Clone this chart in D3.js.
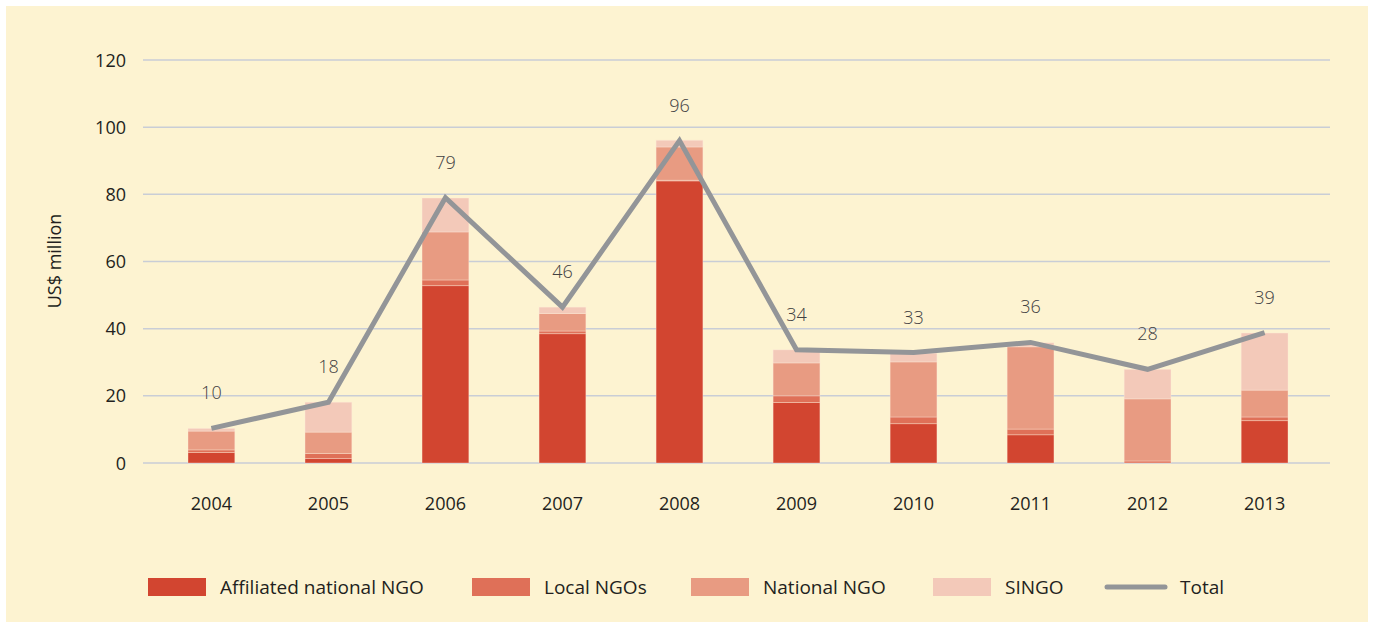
<!DOCTYPE html>
<html>
<head>
<meta charset="utf-8">
<script src="https://cdn.jsdelivr.net/npm/d3@7/dist/d3.min.js"></script>
<style>
  html, body { margin: 0; padding: 0; background: #ffffff; }
  svg { display: block; }
  text { font-family: "Open Sans", "Noto Sans", sans-serif; }
</style>
</head>
<body>
<svg id="chart" width="1375" height="622"></svg>
<script>
const years = ["2004","2005","2006","2007","2008","2009","2010","2011","2012","2013"];
const affiliated = [3.1, 1.3, 52.8, 38.5, 84.0, 18.0, 11.7, 8.4, 0.0, 12.6];
const localNGOs  = [0.8, 1.5, 1.7, 0.8, 0.2, 2.0, 2.0, 1.7, 0.6, 1.1];
const nationalNGO= [5.6, 6.4, 14.3, 5.2, 9.9, 9.8, 16.4, 24.5, 18.5, 8.0];
const singo      = [0.8, 8.9, 10.1, 1.9, 2.0, 3.9, 2.6, 1.2, 8.8, 17.0];
const totals     = [10.3, 18.1, 79.0, 46.4, 96.0, 33.7, 32.9, 35.9, 27.9, 38.8];
const totalLabels= ["10","18","79","46","96","34","33","36","28","39"];
const yTicks = [0, 20, 40, 60, 80, 100, 120];
const seriesNames = ["Affiliated national NGO","Local NGOs","National NGO","SINGO"];
const seriesColors = ["#d24530","#df7058","#e89b82","#f3c9b9"];
const lineColor = "#939598";

const svg = d3.select("#chart");
svg.append("rect").attr("x",6).attr("y",6).attr("width",1362).attr("height",616).attr("fill","#fdf3d1");

const x = d3.scaleBand().domain(years).range([188, 1288]).paddingInner(0.6).paddingOuter(0);
const y = d3.scaleLinear().domain([0,120]).range([463, 60]);

// gridlines
svg.append("g").selectAll("line").data(yTicks).join("line")
  .attr("x1",143).attr("x2",1330)
  .attr("y1",d=>y(d)).attr("y2",d=>y(d))
  .attr("stroke","#c9cdd6").attr("stroke-width",1.5);

// y axis labels
const yAxis = d3.axisLeft(y).tickValues(yTicks).tickSize(0).tickPadding(0);
const yg = svg.append("g").attr("transform","translate(126,0)").call(yAxis);
yg.select(".domain").remove();
yg.selectAll("text").attr("font-size",18).attr("fill","#231f20")
  .attr("font-family","'Open Sans', sans-serif").attr("dy","0.34em");

// x axis labels
const xAxis = d3.axisBottom(x).tickSize(0).tickPadding(0);
const xg = svg.append("g").attr("transform","translate(0,497)").call(xAxis);
xg.select(".domain").remove();
xg.selectAll("text").attr("font-size",18).attr("fill","#231f20")
  .attr("font-family","'Open Sans', sans-serif").attr("dy","0.71em");

// y title
svg.append("text").attr("transform","translate(61,261) rotate(-90)")
  .attr("text-anchor","middle").attr("font-size",18).attr("fill","#231f20").text("US$ million");

// stacked bars
const table = years.map((yr,i)=>({year:yr, a:affiliated[i], l:localNGOs[i], n:nationalNGO[i], s:singo[i]}));
const keys = ["a","l","n","s"];
const stacked = d3.stack().keys(keys)(table);
svg.append("g").selectAll("g").data(stacked).join("g")
  .attr("fill",(d,i)=>seriesColors[i])
  .selectAll("rect").data(d=>d).join("rect")
  .attr("x",d=>x(d.data.year)).attr("width",x.bandwidth())
  .attr("y",d=>y(d[1])).attr("height",d=>Math.max(0,y(d[0])-y(d[1])))
  .attr("stroke","rgba(255,235,220,0.45)").attr("stroke-width",0.8);

// total line
const line = d3.line().x((d,i)=>x(years[i])+x.bandwidth()/2).y(d=>y(d));
svg.append("path").datum(totals).attr("d",line)
  .attr("fill","none").attr("stroke",lineColor).attr("stroke-width",5).attr("stroke-linejoin","miter");

// total labels
svg.append("g").selectAll("text").data(totals).join("text")
  .attr("x",(d,i)=>x(years[i])+x.bandwidth()/2)
  .attr("y",d=>y(d)-29)
  .attr("text-anchor","middle").attr("font-size",18).attr("font-weight",300)
  .attr("fill","#414042").text((d,i)=>totalLabels[i]);

// legend
const legendX = [148, 472, 691, 933];
const lg = svg.append("g");
seriesNames.forEach((name,i)=>{
  lg.append("rect").attr("x",legendX[i]).attr("y",578).attr("width",58).attr("height",18).attr("fill",seriesColors[i]);
  lg.append("text").attr("x",legendX[i]+72).attr("y",594).attr("font-size",19).attr("fill","#231f20").text(name);
});
lg.append("line").attr("x1",1107).attr("x2",1165).attr("y1",587).attr("y2",587)
  .attr("stroke",lineColor).attr("stroke-width",5).attr("stroke-linecap","round");
lg.append("text").attr("x",1180).attr("y",594).attr("font-size",19).attr("fill","#231f20").text("Total");
</script>
</body>
</html>
